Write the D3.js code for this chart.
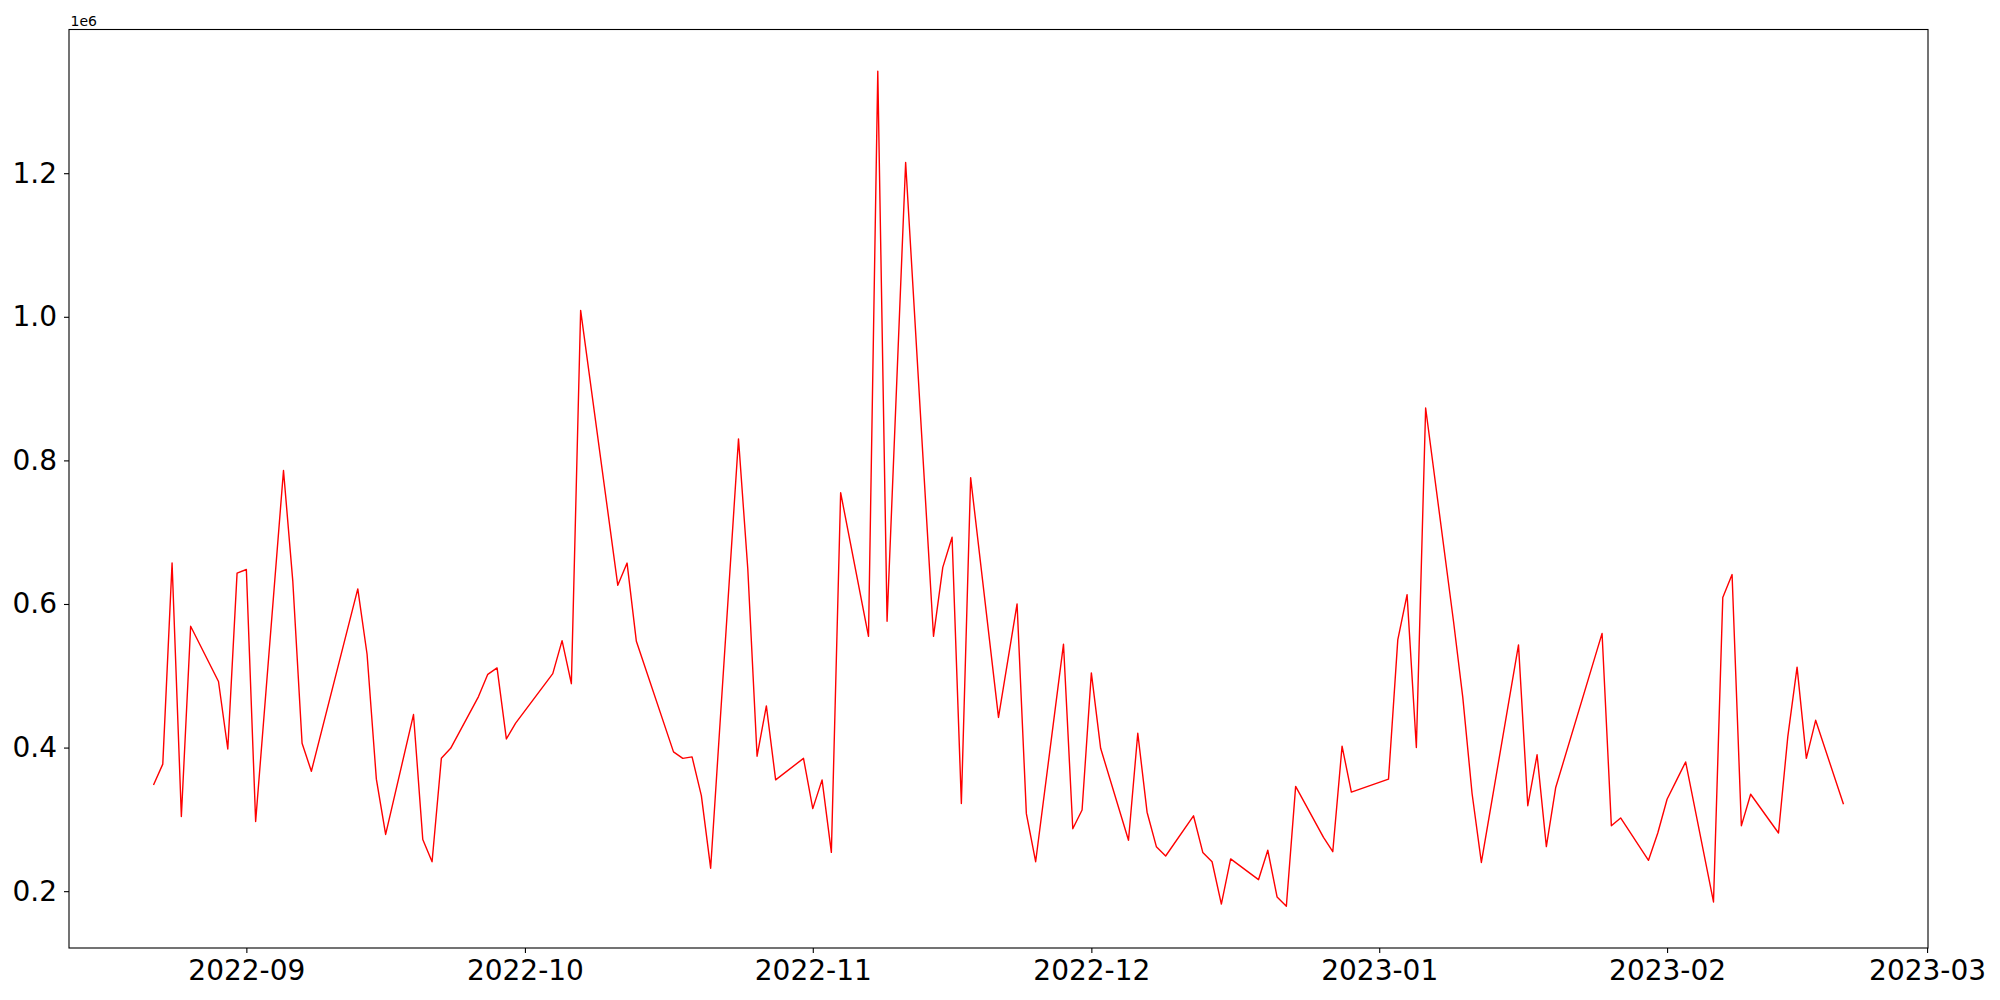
<!DOCTYPE html>
<html>
<head>
<meta charset="utf-8">
<script src="https://cdn.jsdelivr.net/npm/d3@7"></script>
<style>
    body { margin: 0; background: #fff; }
    text { font-family: "DejaVu Sans", sans-serif; fill: #000; }
</style>
</head>
<body>
<div id="chart"></div>
<script>
// data (business days, some missing)
var dates = [
    "2022-08-22", "2022-08-23", "2022-08-24", "2022-08-25", "2022-08-26",
    "2022-08-29", "2022-08-30", "2022-08-31", "2022-09-01", "2022-09-02",
    "2022-09-05", "2022-09-06", "2022-09-07", "2022-09-08",
    "2022-09-13", "2022-09-14", "2022-09-15", "2022-09-16",
    "2022-09-19", "2022-09-20", "2022-09-21", "2022-09-22", "2022-09-23",
    "2022-09-26", "2022-09-27", "2022-09-28", "2022-09-29", "2022-09-30",
    "2022-10-04", "2022-10-05", "2022-10-06", "2022-10-07",
    "2022-10-11", "2022-10-12", "2022-10-13",
    "2022-10-17", "2022-10-18", "2022-10-19", "2022-10-20", "2022-10-21",
    "2022-10-24", "2022-10-25", "2022-10-26", "2022-10-27", "2022-10-28",
    "2022-10-31", "2022-11-01", "2022-11-02", "2022-11-03", "2022-11-04",
    "2022-11-07", "2022-11-08", "2022-11-09", "2022-11-11",
    "2022-11-14", "2022-11-15", "2022-11-16", "2022-11-17", "2022-11-18",
    "2022-11-21", "2022-11-23", "2022-11-24", "2022-11-25",
    "2022-11-28", "2022-11-29", "2022-11-30", "2022-12-01", "2022-12-02",
    "2022-12-05", "2022-12-06", "2022-12-07", "2022-12-08", "2022-12-09",
    "2022-12-12", "2022-12-13", "2022-12-14", "2022-12-15", "2022-12-16",
    "2022-12-19", "2022-12-20", "2022-12-21", "2022-12-22", "2022-12-23",
    "2022-12-26", "2022-12-27", "2022-12-28", "2022-12-29",
    "2023-01-02", "2023-01-03", "2023-01-04", "2023-01-05", "2023-01-06",
    "2023-01-09", "2023-01-10", "2023-01-11", "2023-01-12",
    "2023-01-16", "2023-01-17", "2023-01-18", "2023-01-19", "2023-01-20",
    "2023-01-25", "2023-01-26", "2023-01-27",
    "2023-01-30", "2023-01-31", "2023-02-01", "2023-02-02", "2023-02-03",
    "2023-02-06", "2023-02-07", "2023-02-08", "2023-02-09", "2023-02-10",
    "2023-02-13", "2023-02-14", "2023-02-15", "2023-02-16", "2023-02-17",
    "2023-02-20"
];

var values = [
    348000, 377000, 657000, 304000, 569000,
    492000, 398000, 643000, 648000, 297000,
    786000, 632000, 406000, 367000,
    621000, 530000, 356000, 279000,
    446000, 272000, 241000, 385000, 399000,
    471000, 502000, 511000, 412000, 434000,
    503000, 549000, 489000, 1009000,
    626000, 657000, 548000,
    394000, 385000, 387000, 333000, 232000,
    830000, 649000, 388000, 458000, 355000,
    385000, 315000, 355000, 254000, 755000,
    555000, 1342000, 576000, 1215000,
    555000, 651000, 693000, 322000, 776000,
    442000, 600000, 308000, 241000,
    544000, 287000, 313000, 504000, 399000,
    271000, 420000, 310000, 262000, 249000,
    305000, 254000, 241000, 182000, 245000,
    216000, 257000, 192000, 179000, 346000,
    275000, 255000, 402000, 338000,
    356000, 550000, 613000, 400000, 873000,
    576000, 470000, 336000, 240000,
    543000, 319000, 390000, 262000, 344000,
    559000, 291000, 302000,
    243000, 281000, 328000, 354000, 380000,
    185000, 609000, 641000, 291000, 335000,
    281000, 415000, 512000, 385000, 438000,
    321000
];

var yTicks = [200000, 400000, 600000, 800000, 1000000, 1200000];
var xTickFormat = "%Y-%m";
var yOffsetText = "1e6";

//绘图及显示属性
const width = 2000;
const height = 1000;
const margin = {top: 29.5, right: 72, bottom: 52, left: 69};
const plot_w = width - margin.left - margin.right;
const plot_h = height - margin.top - margin.bottom;

var parse = d3.timeParse("%Y-%m-%d");
var points = dates.map((d, i) => ({date: parse(d), value: values[i]}));

// matplotlib style 5% margins
var x_ext = d3.extent(points, d => d.date);
var x_pad = (x_ext[1] - x_ext[0]) * 0.05;
var y_ext = d3.extent(points, d => d.value);
var y_pad = (y_ext[1] - y_ext[0]) * 0.05;

var x = d3.scaleTime()
    .domain([new Date(+x_ext[0] - x_pad), new Date(+x_ext[1] + x_pad)])
    .range([0, plot_w]);

var y = d3.scaleLinear()
    .domain([y_ext[0] - y_pad, y_ext[1] + y_pad])
    .range([plot_h, 0]);

var svg = d3.select("#chart").append("svg")
    .attr("width", width).attr("height", height);

var g = svg.append("g")
    .attr("transform", "translate(" + margin.left + "," + margin.top + ")");

// axes
var x_axis = g.append("g")
    .attr("transform", "translate(0," + plot_h + ")")
    .call(d3.axisBottom(x)
        .ticks(d3.timeMonth.every(1))
        .tickFormat(d3.timeFormat(xTickFormat))
        .tickSize(5).tickPadding(7).tickSizeOuter(0));

var y_axis = g.append("g")
    .call(d3.axisLeft(y)
        .tickValues(yTicks)
        .tickFormat(d => (d / 1e6).toFixed(1))
        .tickSize(5).tickPadding(7).tickSizeOuter(0));

[x_axis, y_axis].forEach(function (a) {
    a.select(".domain").remove();
    a.selectAll(".tick line").attr("stroke", "#000").attr("stroke-width", 1.1);
    a.selectAll(".tick text")
        .style("font-family", "'DejaVu Sans', sans-serif")
        .style("font-size", "28px")
        .attr("fill", "#000");
});

// the series
var line = d3.line()
    .x(d => x(d.date))
    .y(d => y(d.value));

g.append("path")
    .datum(points)
    .attr("fill", "none")
    .attr("stroke", "#ff0000")
    .attr("stroke-width", 1.4)
    .attr("stroke-linejoin", "round")
    .attr("d", line);

// frame
g.append("rect")
    .attr("width", plot_w).attr("height", plot_h)
    .attr("fill", "none")
    .attr("stroke", "#000")
    .attr("stroke-width", 1.1);

// offset text
g.append("text")
    .attr("x", 1.5).attr("y", -4)
    .style("font-size", "14px")
    .text(yOffsetText);
</script>
</body>
</html>
